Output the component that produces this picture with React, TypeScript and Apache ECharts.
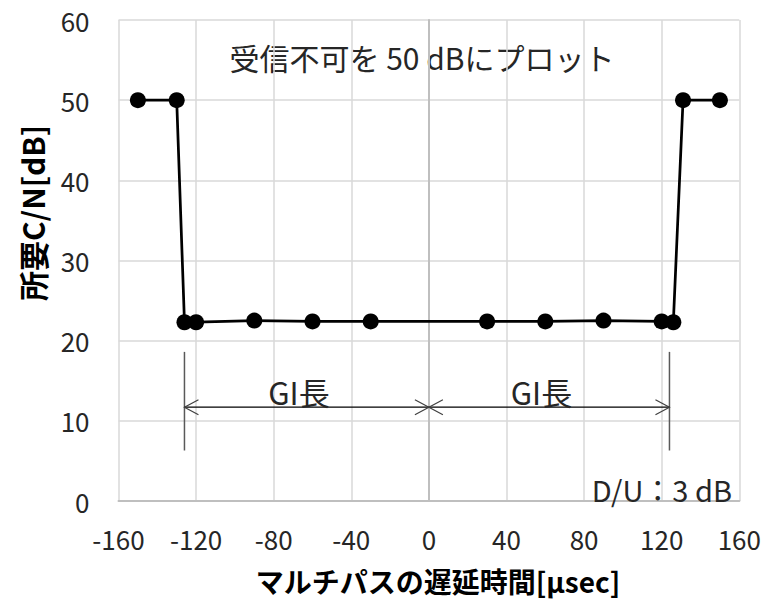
import React, { useEffect, useRef } from "react";
import * as echarts from "echarts";

// ---- data ----
const delayUs = [-150, -130, -126, -120, -90, -60, -30, 30, 60, 90, 120, 126, 131, 150];
const requiredCN = [50, 50, 22.3, 22.3, 22.5, 22.4, 22.4, 22.4, 22.4, 22.5, 22.4, 22.3, 50, 50];

const xTicks = { min: -160, max: 160, interval: 40 };
const yTicks = { min: 0, max: 60, interval: 10 };

// GI boundary markers: [x, yFrom, yTo]
const giBoundaries = [
  [-126, 6.3, 18.6],
  [124, 6.3, 18.6],
];
// GI arrows: [xFrom, xTo, y]
const giArrows = [
  [-126, 0, 11.7],
  [0, 124, 11.7],
];
// GI labels: [x, y, text]
const giLabels: [number, number, string][] = [
  [-67, 13.6, "GI長"],
  [58, 13.6, "GI長"],
];

const noteTop = "受信不可を 50 dBにプロット";
const noteDU = "D/U：3 dB";
const xName = "マルチパスの遅延時間[μsec]";
const yName = "所要C/N[dB]";

const FONT = '"Noto Sans CJK JP", "Noto Sans", sans-serif';

export default function App() {
  const ref = useRef<HTMLDivElement>(null);
  useEffect(() => {
    if (!ref.current) return;
    const chart = echarts.init(ref.current, undefined, { renderer: "svg" });
    const option: any = {
      animation: false,
      backgroundColor: "#ffffff",
      grid: { left: 118.5, right: 29.7, top: 20, bottom: 100, containLabel: false },
      xAxis: {
        type: "value",
        min: xTicks.min,
        max: xTicks.max,
        interval: xTicks.interval,
        axisLine: { show: true, onZero: false, lineStyle: { color: "#bfbfbf", width: 2 } },
        axisTick: { show: false },
        splitLine: { show: true, lineStyle: { color: "#d9d9d9", width: 1.5 } },
        axisLabel: { color: "#262626", fontSize: 26, fontFamily: FONT, margin: 24 },
      },
      yAxis: {
        type: "value",
        min: yTicks.min,
        max: yTicks.max,
        interval: yTicks.interval,
        axisLine: { show: true, lineStyle: { color: "#bfbfbf", width: 2 } },
        axisTick: { show: false },
        splitLine: { show: true, lineStyle: { color: "#d9d9d9", width: 1.5 } },
        axisLabel: { color: "#262626", fontSize: 26, fontFamily: FONT, margin: 29 },
      },
      series: [
        {
          type: "line",
          data: delayUs.map((x, i) => [x, requiredCN[i]]),
          symbol: "circle",
          symbolSize: 16,
          lineStyle: { color: "#000", width: 2.75 },
          itemStyle: { color: "#000" },
          z: 5,
        },
        {
          type: "custom",
          silent: true,
          clip: false,
          data: giBoundaries,
          encode: { x: 0, y: [1, 2] },
          renderItem: (params: any, api: any) => {
            const p1 = api.coord([api.value(0), api.value(1)]);
            const p2 = api.coord([api.value(0), api.value(2)]);
            return {
              type: "line",
              shape: { x1: p1[0], y1: p1[1], x2: p2[0], y2: p2[1] },
              style: { stroke: "#595959", lineWidth: 1.5 },
            };
          },
          z: 3,
        },
        {
          type: "custom",
          silent: true,
          clip: false,
          data: giArrows,
          encode: { x: [0, 1], y: 2 },
          renderItem: (params: any, api: any) => {
            const y = api.value(2);
            const p1 = api.coord([api.value(0), y]);
            const p2 = api.coord([api.value(1), y]);
            const h = 14;
            const w = 7.5;
            return {
              type: "group",
              children: [
                {
                  type: "line",
                  shape: { x1: p1[0], y1: p1[1], x2: p2[0], y2: p2[1] },
                  style: { stroke: "#000", lineWidth: 1.2 },
                },
                {
                  type: "polyline",
                  shape: { points: [[p1[0] + h, p1[1] - w], [p1[0], p1[1]], [p1[0] + h, p1[1] + w]] },
                  style: { stroke: "#404040", fill: null, lineWidth: 1.2 },
                },
                {
                  type: "polyline",
                  shape: { points: [[p2[0] - h, p2[1] - w], [p2[0], p2[1]], [p2[0] - h, p2[1] + w]] },
                  style: { stroke: "#404040", fill: null, lineWidth: 1.2 },
                },
              ],
            };
          },
          z: 3,
        },
        {
          type: "custom",
          silent: true,
          clip: false,
          data: giLabels,
          encode: { x: 0, y: 1 },
          renderItem: (params: any, api: any) => {
            const p = api.coord([api.value(0), api.value(1)]);
            return {
              type: "text",
              x: p[0],
              y: p[1],
              style: {
                text: giLabels[params.dataIndex][2],
                fontSize: 31,
                fontFamily: FONT,
                fill: "#262626",
                align: "center",
                verticalAlign: "middle",
              },
            };
          },
          z: 4,
        },
      ],
      graphic: [
        {
          type: "group",
          z: 100,
          children: [
            { type: "rect", shape: { x: 205, y: 32, width: 435, height: 51 }, style: { fill: "#ffffff" } },
            {
              type: "text",
              x: 422,
              y: 57,
              style: {
                text: noteTop,
                fontSize: 30,
                fontFamily: FONT,
                fill: "#262626",
                align: "center",
                verticalAlign: "middle",
              },
            },
          ],
        },
        {
          type: "text",
          z: 100,
          x: 732,
          y: 489,
          style: {
            text: noteDU,
            fontSize: 29,
            fontFamily: FONT,
            fill: "#262626",
            align: "right",
            verticalAlign: "middle",
          },
        },
        {
          type: "text",
          z: 100,
          x: 438,
          y: 581,
          style: {
            text: xName,
            fontSize: 28,
            fontWeight: "bold",
            fontFamily: FONT,
            fill: "#000",
            align: "center",
            verticalAlign: "middle",
          },
        },
        {
          type: "text",
          z: 100,
          x: 32,
          y: 213,
          rotation: Math.PI / 2,
          style: {
            text: yName,
            fontSize: 30,
            fontWeight: "bold",
            fontFamily: FONT,
            fill: "#000",
            align: "center",
            verticalAlign: "middle",
          },
        },
      ],
    };
    chart.setOption(option);
    return () => chart.dispose();
  }, []);
  return (
    <div
      ref={ref}
      style={{ position: "fixed", left: 0, top: 0, width: 769, height: 601, background: "#fff" }}
    />
  );
}
